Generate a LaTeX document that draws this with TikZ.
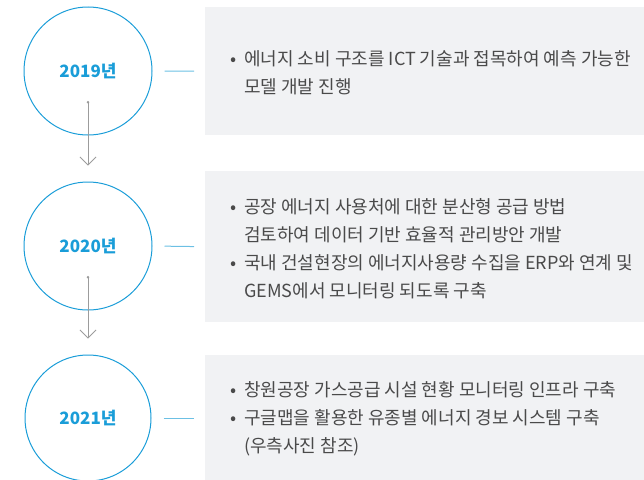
\documentclass[tikz,border=0pt]{standalone}
\usepackage{fontspec}
\setmainfont{Noto Sans CJK KR}
\usetikzlibrary{arrows.meta}
\definecolor{cblue}{HTML}{1A9DD8}
\definecolor{lblue}{HTML}{6CC0E4}
\definecolor{boxgray}{HTML}{F1F2F4}
\definecolor{txtgray}{HTML}{4A4A4A}
\definecolor{arrgray}{HTML}{9C9C9C}
\newcommand{\bl}[1]{\makebox[13pt][l]{\hspace*{-1pt}\raisebox{0pt}{\fontsize{18}{18}\selectfont •}}#1}
\newcommand{\cl}[1]{\hspace*{13pt}#1}
\begin{document}
\begin{tikzpicture}[x=1pt,y=-1pt,
  yearcircle/.style={circle,draw=cblue,line width=1pt,minimum size=128pt,inner sep=0pt,
    text=cblue,font=\fontsize{17}{20}\selectfont\bfseries},
  infobox/.style={fill=boxgray,draw=none,anchor=north west,inner sep=0pt},
  infotext/.style={anchor=west,align=left,text=txtgray,inner sep=0pt,
    font=\fontsize{18}{28}\selectfont},
  link/.style={draw=lblue,line width=1pt,shorten <=12pt,shorten >=11pt},
  flow/.style={draw=arrgray,line width=0.8pt,shorten <=30pt,shorten >=16pt,
    {Circle[length=2.5pt]}-{Straight Barb[length=8pt,width=16pt,line width=0.8pt]}}]
\useasboundingbox (0,0) rectangle (644,479);
\clip (0,0) rectangle (644,479);
\node[infobox,minimum width=450pt,minimum height=128pt] (b1) at (205,7) {};
\node[infobox,minimum width=450pt,minimum height=151pt] (b2) at (205,171) {};
\node[infobox,minimum width=450pt,minimum height=140pt] (b3) at (205,355) {};
\node[yearcircle] (c1) at (88,71) {2019년};
\node[yearcircle] (c2) at (88,246) {2020년};
\node[yearcircle,minimum size=126pt] (c3) at (88,418) {2021년};
\node[infotext] (t1) at (231,72.5) {\bl{에너지 소비 구조를 ICT 기술과 접목하여 예측 가능한}\\\cl{모델 개발 진행}};
\node[infotext] (t2) at (231,248.5) {\bl{공장 에너지 사용처에 대한 분산형 공급 방법}\\\cl{검토하여 데이터 기반 효율적 관리방안 개발}\\\bl{국내 건설현장의 에너지사용량 수집을 ERP와 연계 및}\\\cl{GEMS에서 모니터링 되도록 구축}};
\node[infotext] (t3) at (231,419) {\bl{창원공장 가스공급 시설 현황 모니터링 인프라 구축}\\\bl{구글맵을 활용한 유종별 에너지 경보 시스템 구축}\\\cl{(우측사진 참조)}};
\draw[link] (c1.east) -- (b1.west);
\draw[link] (c2.east) -- (b2.west);
\draw[link] (c3.east) -- (c3.east -| b3.west);
\draw[flow] (c1.center) -- (c2.north);
\draw[flow] (c2.center) -- (c3.north);
\end{tikzpicture}
\end{document}
